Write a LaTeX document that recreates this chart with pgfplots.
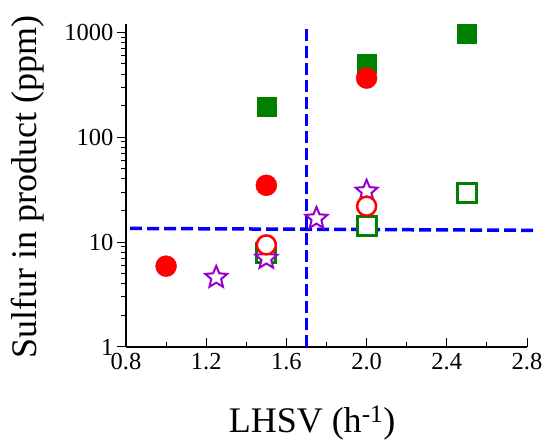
\documentclass[border=0pt]{standalone}
\usepackage{fontspec}
\setmainfont{Liberation Serif}
\usepackage{pgfplots}
\pgfplotsset{compat=1.18}
\definecolor{dgreen}{RGB}{0,128,0}
\definecolor{vio}{RGB}{150,0,205}
\pgfdeclareplotmark{ostar}{%
  \pgfpathmoveto{\pgfpointpolar{90}{\pgfplotmarksize}}%
  \pgfpathlineto{\pgfpointpolar{126}{0.45\pgfplotmarksize}}%
  \pgfpathlineto{\pgfpointpolar{162}{\pgfplotmarksize}}%
  \pgfpathlineto{\pgfpointpolar{198}{0.45\pgfplotmarksize}}%
  \pgfpathlineto{\pgfpointpolar{234}{\pgfplotmarksize}}%
  \pgfpathlineto{\pgfpointpolar{270}{0.45\pgfplotmarksize}}%
  \pgfpathlineto{\pgfpointpolar{306}{\pgfplotmarksize}}%
  \pgfpathlineto{\pgfpointpolar{342}{0.45\pgfplotmarksize}}%
  \pgfpathlineto{\pgfpointpolar{18}{\pgfplotmarksize}}%
  \pgfpathlineto{\pgfpointpolar{54}{0.45\pgfplotmarksize}}%
  \pgfpathclose
  \pgfusepathqfillstroke
}
\begin{document}
\begin{tikzpicture}
\begin{axis}[
  scale only axis, width=401pt, height=323pt,
  xmin=0.8, xmax=2.8, ymode=log, ymin=1, ymax=1200,
  axis lines*=left,
  axis line style={line width=1.2pt},
  xtick={0.8,1.2,1.6,2.0,2.4,2.8},
  xticklabels={0.8,1.2,1.6,2.0,2.4,2.8},
  minor xtick={1.0,1.4,1.8,2.2,2.6},
  ytick={1,10,100,1000}, yticklabels={1,10,100,1000},
  xtick align=inside, ytick align=outside,
  major tick length=9pt, minor tick length=5pt,
  tick style={line width=1pt, black},
  ticklabel style={font=\rmfamily\fontsize{24.5}{28}\selectfont},
  xticklabel style={yshift=-3pt},
  /pgf/number format/assume math mode=true,
  clip=false,
]
% filled squares
\addplot[only marks, mark=square*, mark size=9.5pt, draw=dgreen, fill=dgreen, line width=0.5pt]
  coordinates {(1.5,197) (2.0,505) (2.5,960)};
% open squares
\addplot[only marks, mark=square*, mark size=9.5pt, mark options={draw=dgreen, fill=white, line width=2.8pt}]
  coordinates {(1.5,7.9) (2.0,14.2) (2.5,29.2)};
% dashed lines
\addplot[blue, line width=3.5pt, dash pattern=on 12pt off 5pt, no marks]
  coordinates {(1.7,1) (1.7,1200)};
\addplot[blue, line width=3.5pt, dash pattern=on 12pt off 5pt, no marks]
  coordinates {(0.82,13.5) (2.83,12.95)};
% stars
\addplot[only marks, mark=ostar, mark size=11.5pt, mark options={draw=vio, fill=white, line width=2pt}]
  coordinates {(1.25,4.6) (1.5,7.0) (1.75,16.8) (2.0,30.5)};
% open circles
\addplot[only marks, mark=*, mark size=9.5pt, mark options={draw=red, fill=white, line width=2.5pt}]
  coordinates {(1.5,9.4) (2.0,22)};
% filled circles
\addplot[only marks, mark=*, mark size=10.5pt, draw=red, fill=red]
  coordinates {(1.0,5.9) (1.5,34.8) (2.0,366)};
\end{axis}
\node[anchor=base, font=\rmfamily\fontsize{36}{40}\selectfont] at (186pt,-85pt) {LHSV (h\textsuperscript{-1})};
\node[anchor=base, rotate=90, font=\rmfamily\fontsize{36}{40}\selectfont] at (-89pt,159.5pt) {Sulfur in product (ppm)};
\path[use as bounding box] (-126pt,-92pt) rectangle (420pt,347pt);
\end{tikzpicture}
\end{document}
